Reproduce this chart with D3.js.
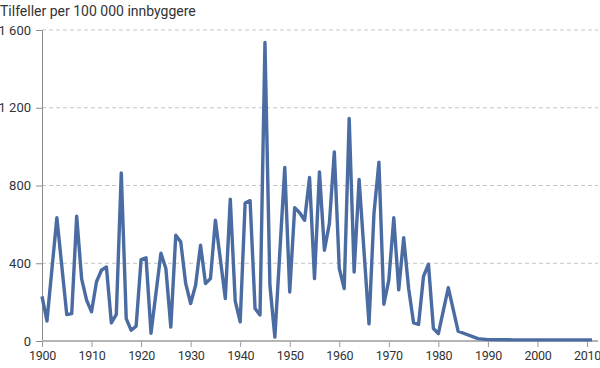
<!DOCTYPE html>
<html>
<head>
<meta charset="utf-8">
<script src="https://cdn.jsdelivr.net/npm/d3@7"></script>
<style>
  body { margin: 0; background: #fff; }
  svg text { font-family: Roboto, "Liberation Sans", sans-serif; fill: #333; }
</style>
</head>
<body>
<div id="okvir"></div>
<script>
// Tilfeller per 100 000 innbyggere, etter år
const aar = [
  1900, 1901, 1903, 1905, 1906, 1907, 1908, 1909, 1910, 1911, 1912, 1913, 1914, 1915,
  1916, 1917, 1918, 1919, 1920, 1921, 1922, 1924, 1925, 1926, 1927, 1928, 1929, 1930,
  1931, 1932, 1933, 1934, 1935, 1937, 1938, 1939, 1940, 1941, 1942, 1943, 1944, 1945,
  1946, 1947, 1949, 1950, 1951, 1952, 1953, 1954, 1955, 1956, 1957, 1958, 1959, 1960,
  1961, 1962, 1963, 1964, 1966, 1967, 1968, 1969, 1970, 1971, 1972, 1973, 1974, 1975,
  1976, 1977, 1978, 1979, 1980, 1982, 1984, 1988, 1990, 1995, 2000, 2005, 2011
]
const tilfeller = [
  230, 103, 634, 136, 141, 642, 320, 210, 150, 305, 364, 381, 93, 137,
  865, 115, 55, 76, 419, 428, 40, 452, 373, 72, 544, 510, 296, 193,
  287, 493, 296, 321, 622, 218, 730, 205, 98, 710, 722, 167, 134, 1536,
  287, 20, 893, 252, 686, 660, 621, 841, 321, 870, 467, 604, 973, 373,
  270, 1145, 355, 831, 88, 655, 920, 189, 313, 634, 263, 532, 270, 93,
  85, 332, 395, 64, 38, 274, 50, 12, 7, 6, 6, 6, 6
]
const yTickovi = [0, 400, 800, 1200, 1600]
const xTickovi = d3.range(1900, 2011, 10)
const tittel = "Tilfeller per 100 000 innbyggere"

const podaci = aar.map((a, i) => ({ aar: a, verdi: tilfeller[i] }))

const dim = { sirina: 600, visina: 368, lijevo: 42, desno: 598, gore: 30, dolje: 341 }

const svg = d3.select("#okvir").append("svg")
  .attr("width", dim.sirina)
  .attr("height", dim.visina)

const xSkala = d3.scaleLinear()
  .domain([1900, 2010])
  .range([dim.lijevo, 587])

const ySkala = d3.scaleLinear()
  .domain([0, 1600])
  .range([dim.dolje, dim.gore])

// mreza
svg.append("g")
  .selectAll("line")
  .data(yTickovi.filter(d => d > 0))
  .join("line")
    .attr("x1", dim.lijevo)
    .attr("x2", dim.desno)
    .attr("y1", d => ySkala(d))
    .attr("y2", d => ySkala(d))
    .attr("stroke", "#c4c4c4")
    .attr("stroke-width", 1)
    .attr("stroke-dasharray", "4,3")

// y os
const fmt = d => d3.format(",")(d).replace(",", " ")
const yOs = svg.append("g")
  .attr("transform", `translate(${dim.lijevo},0)`)
  .call(d3.axisLeft(ySkala).tickValues(yTickovi).tickSize(6).tickPadding(5).tickFormat(fmt))
yOs.select(".domain").attr("stroke", "#8c8c8c")
yOs.selectAll(".tick line").attr("stroke", "#8c8c8c")
yOs.selectAll("text").style("font-size", "13px").attr("fill", "#333")

// x os
const xOs = svg.append("g")
  .attr("transform", `translate(0,${dim.dolje})`)
  .call(d3.axisBottom(xSkala).tickValues(xTickovi).tickSize(6).tickPadding(4).tickFormat(d3.format("d")))
xOs.select(".domain").remove()
xOs.append("line")
  .attr("x1", dim.lijevo)
  .attr("x2", dim.desno)
  .attr("stroke", "#b4b4b4")
  .attr("stroke-width", 2)
xOs.selectAll(".tick line").attr("stroke", "#9a9a9a")
xOs.selectAll("text")
  .style("font-size", "12.5px")
  .style("letter-spacing", "-0.3px")
  .attr("fill", "#333")

// linija
const generatorLinije = d3.line()
  .x(d => xSkala(d.aar))
  .y(d => ySkala(d.verdi))

svg.append("path")
  .attr("d", generatorLinije(podaci))
  .attr("fill", "none")
  .attr("stroke", "#4a6ca2")
  .attr("stroke-width", 3.4)
  .attr("stroke-linejoin", "round")

svg.append("text")
  .attr("x", 0)
  .attr("y", 16)
  .style("font-size", "14px")
  .text(tittel)
</script>
</body>
</html>
